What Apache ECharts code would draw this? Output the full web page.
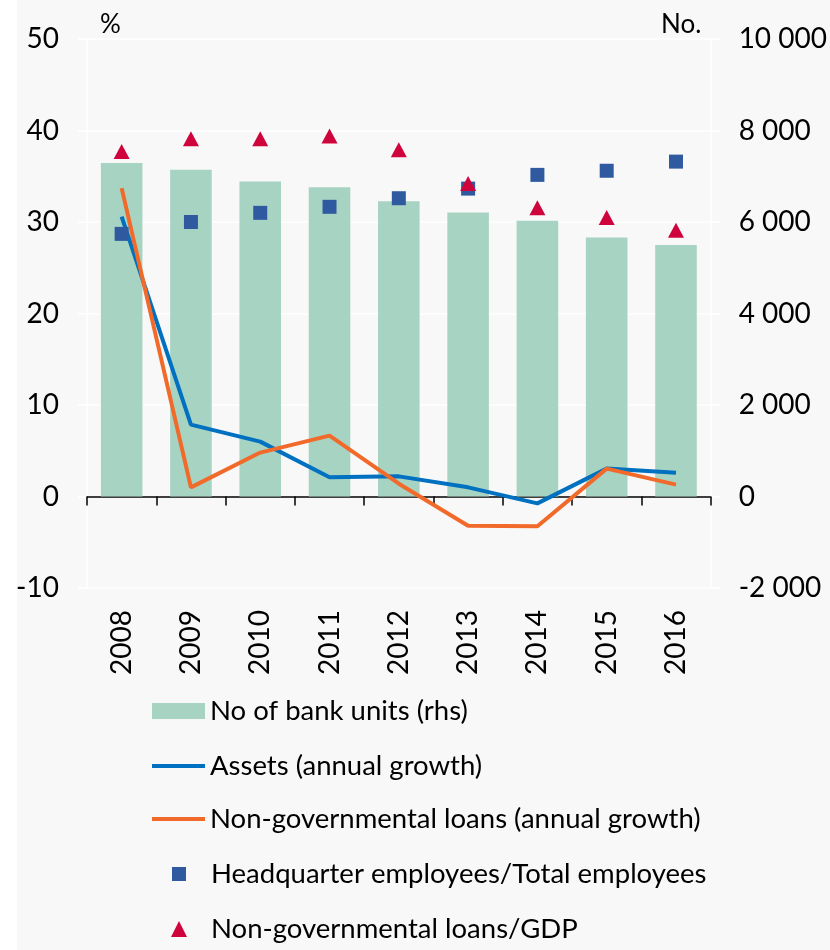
<!DOCTYPE html>
<html>
<head>
<meta charset="utf-8">
<script src="https://cdn.jsdelivr.net/npm/echarts@6/dist/echarts.min.js"></script>
<style>
  html, body { margin: 0; padding: 0; background: #ffffff; }
  #chart {
    width: 830px; height: 950px;
    background: linear-gradient(to right, #ffffff 0, #ffffff 17px, #f8f8f8 17px, #f8f8f8 100%);
  }
</style>
</head>
<body>
<div id="chart"></div>
<script>
// Years on the category axis
var years = ['2008', '2009', '2010', '2011', '2012', '2013', '2014', '2015', '2016'];

// Number of bank units (right-hand axis, count)
var bankUnits = [7290, 7140, 6885, 6760, 6455, 6207, 6025, 5660, 5495];

// Annual growth rates, % (left-hand axis)
var assetsGrowth = [30.6, 7.85, 6.0, 2.1, 2.2, 1.0, -0.75, 3.05, 2.6];
var loansGrowth = [33.7, 1.0, 4.8, 6.65, 1.4, -3.2, -3.25, 3.05, 1.3];

// Ratios, % (left-hand axis)
var hqShare = [28.7, 30.0, 31.0, 31.66, 32.6, 33.65, 35.15, 35.6, 36.6];
var loansToGdp = [37.7, 39.1, 39.1, 39.4, 37.9, 34.2, 31.55, 30.5, 29.1];

// Axis ranges
var leftAxis = { min: -10, max: 50, step: 10 };
var rightAxis = { min: -2000, max: 10000, step: 2000 };

var names = {
  units: 'No of bank units (rhs)',
  assets: 'Assets (annual growth)',
  loans: 'Non-governmental loans (annual growth)',
  hq: 'Headquarter employees/Total employees',
  gdp: 'Non-governmental loans/GDP'
};

var FONT = 'Lato';
var AXIS_FONT_SIZE = 28;
var LEGEND_FONT_SIZE = 27.5;
var colors = {
  bar: '#a7d3c2',
  assets: '#0070c0',
  loans: '#f26a2a',
  hq: '#2f5aa0',
  gdp: '#d0043c'
};

function spaced(v) {
  var s = String(Math.abs(v)).replace(/\B(?=(\d{3})+(?!\d))/g, ' ');
  return (v < 0 ? '-' : '') + s;
}

// One legend block per entry so each can carry its own key size
function legendRow(name, left, top, icon, w, h, textPad) {
  return {
    data: [name],
    left: left,
    top: top,
    padding: 0,
    icon: icon,
    itemWidth: w,
    itemHeight: h,
    selectedMode: false,
    textStyle: {
      fontFamily: FONT, fontSize: LEGEND_FONT_SIZE, color: '#000',
      padding: [0, 0, 0, textPad]
    }
  };
}

var chart = echarts.init(document.getElementById('chart'), null, { renderer: 'canvas' });

chart.setOption({
  backgroundColor: 'transparent',
  animation: false,
  grid: { left: 87, right: 110, top: 39, bottom: 362, containLabel: false },
  graphic: [
    { type: 'text', left: 100, top: 12, style: { text: '%', fontFamily: FONT, fontSize: 26, fill: '#000' } },
    { type: 'text', left: 661, top: 12, style: { text: 'No.', fontFamily: FONT, fontSize: 26, fill: '#000' } }
  ],
  legend: [
    legendRow(names.units, 152, 697, 'rect', 53, 16, 0),
    legendRow(names.assets, 152, 752, 'rect', 53, 4, 0),
    legendRow(names.loans, 152, 805, 'rect', 53, 4, 0),
    legendRow(names.hq, 172, 860, 'rect', 14, 14, 20),
    legendRow(names.gdp, 171, 915, 'triangle', 16, 16, 19)
  ],
  xAxis: [
    {
      type: 'category',
      data: years,
      position: 'bottom',
      boundaryGap: true,
      axisLine: { show: true, onZero: true, onZeroAxisIndex: 0, lineStyle: { color: '#000', width: 1.5 } },
      axisTick: { show: true, length: 9, inside: false, lineStyle: { color: '#000', width: 1.5 } },
      axisLabel: { show: false },
      splitLine: { show: false }
    },
    {
      type: 'category',
      data: years,
      position: 'bottom',
      boundaryGap: true,
      axisLine: { show: false, onZero: false },
      axisTick: { show: false },
      axisLabel: { show: true, rotate: 90, margin: 22, fontFamily: FONT, fontSize: AXIS_FONT_SIZE, color: '#000' },
      splitLine: { show: false }
    }
  ],
  yAxis: [
    {
      type: 'value',
      position: 'left',
      min: leftAxis.min, max: leftAxis.max, interval: leftAxis.step,
      axisLine: { show: true, lineStyle: { color: '#ffffff', width: 1.5 } },
      axisTick: { show: true, length: 9, lineStyle: { color: '#ffffff', width: 1.5 } },
      axisLabel: { margin: 28, fontFamily: FONT, fontSize: AXIS_FONT_SIZE, color: '#000' },
      splitLine: { show: true, lineStyle: { color: '#ffffff', width: 1.5 } }
    },
    {
      type: 'value',
      position: 'right',
      min: rightAxis.min, max: rightAxis.max, interval: rightAxis.step,
      axisLine: { show: true, lineStyle: { color: '#ffffff', width: 1.5 } },
      axisTick: { show: true, length: 10, lineStyle: { color: '#ffffff', width: 1.5 } },
      axisLabel: { margin: 28, fontFamily: FONT, fontSize: AXIS_FONT_SIZE, color: '#000', formatter: spaced },
      splitLine: { show: false }
    }
  ],
  series: [
    {
      name: names.units,
      type: 'bar',
      xAxisIndex: 0,
      yAxisIndex: 1,
      data: bankUnits,
      barWidth: '60%',
      itemStyle: { color: colors.bar },
      z: 1
    },
    {
      name: names.assets,
      type: 'line',
      xAxisIndex: 0,
      yAxisIndex: 0,
      data: assetsGrowth,
      symbol: 'none',
      lineStyle: { color: colors.assets, width: 4 },
      itemStyle: { color: colors.assets },
      z: 3
    },
    {
      name: names.loans,
      type: 'line',
      xAxisIndex: 0,
      yAxisIndex: 0,
      data: loansGrowth,
      symbol: 'none',
      lineStyle: { color: colors.loans, width: 4 },
      itemStyle: { color: colors.loans },
      z: 4
    },
    {
      name: names.hq,
      type: 'scatter',
      xAxisIndex: 0,
      yAxisIndex: 0,
      data: hqShare,
      symbol: 'rect',
      symbolSize: 14,
      itemStyle: { color: colors.hq, opacity: 1 },
      z: 5
    },
    {
      name: names.gdp,
      type: 'scatter',
      xAxisIndex: 0,
      yAxisIndex: 0,
      data: loansToGdp,
      symbol: 'triangle',
      symbolSize: [16, 15],
      itemStyle: { color: colors.gdp, opacity: 1 },
      z: 6
    }
  ]
});
</script>
</body>
</html>
